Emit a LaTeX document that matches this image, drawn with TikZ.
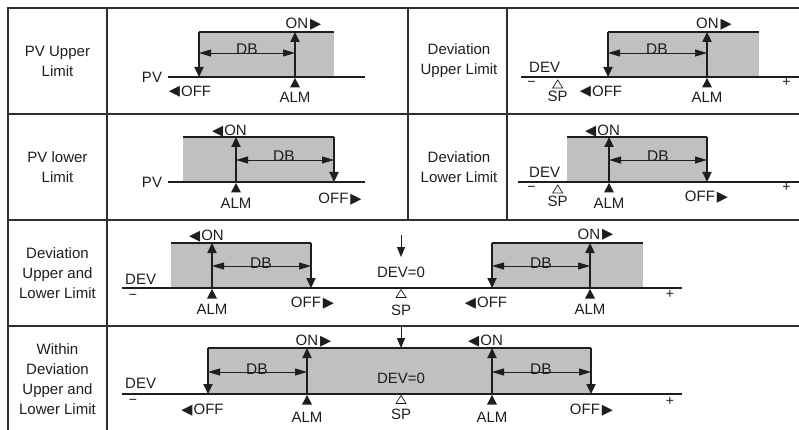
\documentclass[tikz,border=0pt]{standalone}
\usepackage{fontspec}
\setmainfont{Liberation Sans}
\newfontfamily\symfont{DejaVu Sans}
\usetikzlibrary{arrows.meta,calc}
\definecolor{txt}{HTML}{1E1E1E}
\definecolor{gridc}{HTML}{303030}
\definecolor{boxg}{HTML}{C0C0C0}
\newcommand\tL{\raisebox{0.3pt}{\symfont\fontsize{14.5}{14.5}\selectfont ◀}}
\newcommand\tR{\raisebox{0.3pt}{\symfont\fontsize{14.5}{14.5}\selectfont ▶}}
\newcommand\almMark[2]{\fill[txt] (#1,#2) -- ++(-5,9.5) -- ++(10,0) -- cycle;}
\newcommand\spMark[2]{\draw[txt,line width=0.7pt] (#1,#2) -- ++(-5,8) -- ++(10,0) -- cycle;}
\begin{document}
\begin{tikzpicture}[x=1pt,y=-1pt,
  grid/.style={draw=gridc,line width=1.2pt},
  heavy/.style={draw=txt,line width=2.2pt},
  lightline/.style={draw=txt,line width=1.4pt},
  sw/.style={heavy,-{Triangle[length=10pt,width=9pt]}},
  thinarr/.style={draw=txt,line width=1pt,-{Triangle[length=10pt,width=8pt]}},
  dbar/.style={draw=txt,line width=0.9pt,{Triangle[length=12pt,width=7pt]}-{Triangle[length=12pt,width=7pt]}},
  lbl/.style={font=\fontsize{15}{20}\selectfont,text=txt,inner sep=0pt,text height=11pt,text depth=0pt},
  dbl/.style={font=\fontsize{15.5}{20}\selectfont,text=txt,inner sep=0pt,anchor=base},
  rowlbl/.style={font=\fontsize{15}{20}\selectfont,text=txt,inner sep=0pt,align=center},
  pm/.style={font=\fontsize{14}{14}\selectfont,text=txt,inner sep=0pt,text height=6pt,text depth=0pt}]
\useasboundingbox (0,0) rectangle (799,430);

% ---------- table grid ----------
\draw[grid] (8,430) -- (8,8) -- (799,8);
\draw[grid] (8,114) -- (799,114);
\draw[grid] (8,220) -- (799,220);
\draw[grid] (8,326) -- (799,326);
\draw[grid] (107,8) -- (107,430);
\draw[grid] (408,8) -- (408,220);
\draw[grid] (507,8) -- (507,220);

% ---------- row labels ----------
\node[rowlbl] (lab1) at (57.5,61) {PV Upper\\Limit};
\node[rowlbl] (lab2) at (459,61) {Deviation\\Upper Limit};
\node[rowlbl] (lab3) at (57.5,167) {PV lower\\Limit};
\node[rowlbl] (lab4) at (459,167) {Deviation\\Lower Limit};
\node[rowlbl] (lab5) at (57.5,273) {Deviation\\Upper and\\Lower Limit};
\node[rowlbl] (lab6) at (57.5,379) {Within\\Deviation\\Upper and\\Lower Limit};

% ---------- row 1 left: PV upper limit ----------
\fill[boxg] (199,32) rectangle (334,77);
\draw[heavy] (168,77) -- (365,77);
\draw[heavy] (199,32) -- (334,32);
\draw[sw] (199,32) -- (199,77);
\draw[sw] (295,77) -- (295,32);
\draw[dbar] (199,53) -- (295,53);
\node[dbl] (db1) at (247,55) {DB};
\almMark{295}{78}
\node[lbl] (alm1) at (295,97.5) {ALM};
\node[lbl] (on1) at (303.5,23.3) {ON\kern2pt\tR};
\node[lbl] (off1) at (190,90.7) {\tL\kern1pt OFF};
\node[lbl] (pv1) at (152,77) {PV};

% ---------- row 1 right: deviation upper limit ----------
\fill[boxg] (608,32) rectangle (759,77);
\draw[heavy] (521,77) -- (799,77);
\draw[heavy] (608,32) -- (759,32);
\draw[sw] (608,32) -- (608,77);
\draw[sw] (707,77) -- (707,32);
\draw[dbar] (608,53) -- (707,53);
\node[dbl] (db2) at (657,55) {DB};
\almMark{707}{78}
\node[lbl] (alm2) at (707,97.5) {ALM};
\node[lbl] (on2) at (714,23.3) {ON\kern2pt\tR};
\node[lbl] (off2) at (601,90.7) {\tL\kern1pt OFF};
\node[lbl,anchor=west] (dev2) at (529,67) {DEV};
\node[pm] (mi2) at (531.5,84) {−};
\node[pm] (pl2) at (786.5,84) {+};
\spMark{557.7}{80}
\node[lbl] (sp2) at (557.7,96) {SP};

% ---------- row 2 left: PV lower limit ----------
\fill[boxg] (183,137) rectangle (334,182);
\draw[heavy] (168,182) -- (365,182);
\draw[heavy] (183,137) -- (334,137);
\draw[sw] (334,137) -- (334,182);
\draw[sw] (236,182) -- (236,137);
\draw[dbar] (236,160) -- (334,160);
\node[dbl] (db3) at (284,162) {DB};
\almMark{236}{183}
\node[lbl] (alm3) at (236,202.5) {ALM};
\node[lbl] (on3) at (229.5,130) {\tL\kern1pt ON};
\node[lbl] (off3) at (340,198.5) {OFF\kern2pt\tR};
\node[lbl] (pv3) at (152,182) {PV};

% ---------- row 2 right: deviation lower limit ----------
\fill[boxg] (567,137) rectangle (707,182);
\draw[heavy] (518,182) -- (757,182);
\draw[lightline] (757,182) -- (799,182);
\draw[heavy] (567,137) -- (707,137);
\draw[sw] (707,137) -- (707,182);
\draw[sw] (609,182) -- (609,137);
\draw[dbar] (609,160) -- (707,160);
\node[dbl] (db4) at (658,162) {DB};
\almMark{609}{183}
\node[lbl] (alm4) at (609,202.5) {ALM};
\node[lbl] (on4) at (602.5,130) {\tL\kern1pt ON};
\node[lbl] (off4) at (706.5,196) {OFF\kern2pt\tR};
\node[lbl,anchor=west] (dev4) at (529,172) {DEV};
\node[pm] (mi4) at (531.5,189) {−};
\node[pm] (pl4) at (786.5,188.5) {+};
\spMark{557.7}{185}
\node[lbl] (sp4) at (557.7,201) {SP};

% ---------- row 3: deviation upper and lower limit ----------
\fill[boxg] (171,243) rectangle (311,288);
\fill[boxg] (492,243) rectangle (643,288);
\draw[heavy] (122,288) -- (358,288);
\draw[lightline] (358,288) -- (442,288);
\draw[heavy] (442,288) -- (682,288);
\draw[heavy] (171,243) -- (311,243);
\draw[heavy] (492,243) -- (643,243);
\draw[sw] (311,243) -- (311,288);
\draw[sw] (212,288) -- (212,243);
\draw[sw] (492,243) -- (492,288);
\draw[sw] (590,288) -- (590,243);
\draw[dbar] (212,266) -- (311,266);
\draw[dbar] (492,266) -- (590,266);
\node[dbl] (db5) at (261,268) {DB};
\node[dbl] (db6) at (541,268) {DB};
\almMark{212}{289}
\almMark{590}{289}
\node[lbl] (alm5) at (212,308.5) {ALM};
\node[lbl] (alm6) at (590,308.5) {ALM};
\node[lbl] (on5) at (206.5,235) {\tL\kern1pt ON};
\node[lbl] (off5) at (312.5,302) {OFF\kern2pt\tR};
\node[lbl] (on6) at (595.5,233.7) {ON\kern2pt\tR};
\node[lbl] (off6) at (486,302) {\tL\kern1pt OFF};
\node[lbl,anchor=west] (dev5) at (125,279) {DEV};
\node[pm] (mi5) at (133,296) {−};
\node[pm] (pl5) at (670,295.5) {+};
\coordinate (z5a) at (401,235);
\coordinate (z5b) at (401,257);
\draw[thinarr] (z5a) -- (z5b);
\node[lbl] (dz5) at (401,272) {DEV=0};
\spMark{401}{289.5}
\node[lbl] (sp5) at (401,310) {SP};

% ---------- row 4: within deviation upper and lower limit ----------
\fill[boxg] (208,348) rectangle (591,394);
\draw[lightline] (122,394) -- (160,394);
\draw[heavy] (160,394) -- (640,394);
\draw[lightline] (640,394) -- (682,394);
\draw[heavy] (208,348) -- (591,348);
\draw[sw] (208,348) -- (208,394);
\draw[sw] (307,394) -- (307,348);
\draw[sw] (492,394) -- (492,348);
\draw[sw] (591,348) -- (591,394);
\draw[dbar] (208,372) -- (307,372);
\draw[dbar] (492,372) -- (591,372);
\node[dbl] (db7) at (257,374) {DB};
\node[dbl] (db8) at (541,374) {DB};
\almMark{307}{395}
\almMark{492}{395}
\node[lbl] (alm7) at (307,417) {ALM};
\node[lbl] (alm8) at (492,417) {ALM};
\node[lbl] (on7) at (313.5,340) {ON\kern2pt\tR};
\node[lbl] (off7) at (202.5,409) {\tL\kern1pt OFF};
\node[lbl] (on8) at (485.5,340) {\tL\kern1pt ON};
\node[lbl] (off8) at (591.5,409) {OFF\kern2pt\tR};
\node[lbl,anchor=west] (dev7) at (125,383) {DEV};
\node[pm] (mi7) at (133,401) {−};
\node[pm] (pl7) at (670,402) {+};
\coordinate (z7a) at (401,327);
\coordinate (z7b) at (401,348);
\draw[thinarr] (z7a) -- (z7b);
\node[lbl] (dz7) at (401,378) {DEV=0};
\spMark{401}{395.5}
\node[lbl] (sp7) at (401,414) {SP};
\end{tikzpicture}
\end{document}
